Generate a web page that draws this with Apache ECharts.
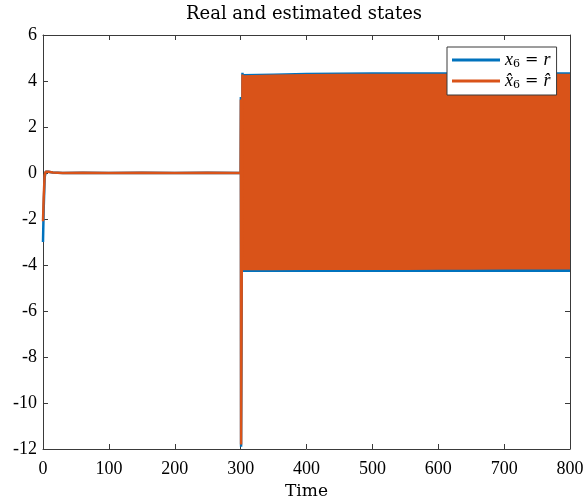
<!DOCTYPE html>
<html>
<head>
<meta charset="utf-8">
<script src="https://cdn.jsdelivr.net/npm/echarts@6/dist/echarts.min.js"></script>
<style>
  html, body { margin: 0; padding: 0; background: #fff; }
  #chart { width: 584px; height: 502px; }
</style>
</head>
<body>
<div id="chart"></div>
<script>
// Real state x6 = r : transient part (time, value)
const realTime  = [0, 1, 2.5, 4, 8, 15, 30, 60, 100, 150, 200, 250, 300, 300.4, 300.7, 301.5, 302.8];
const realValue = [-3.0, -1.6, -0.2, 0.05, 0.05, 0.02, 0.0, 0.01, 0.0, 0.01, 0.0, 0.01, 0.0, 3.3, -11.9, -6.4, 4.36];

// Estimated state x6_hat = r_hat : transient part (time, value)
const estTime  = [0, 1, 2.5, 4, 8, 15, 30, 60, 100, 150, 200, 250, 300, 300.4, 300.7, 301.5, 302.8];
const estValue = [-2.1, -1.1, -0.1, 0.05, 0.05, 0.02, 0.0, 0.01, 0.0, 0.01, 0.0, 0.01, 0.0, 3.2, -11.8, -5.7, 4.28];

// Envelope of the fast oscillation after t = 300
const bandTime  = [302.8, 350, 400, 450, 500, 550, 600, 650, 700, 750, 800];
const realUpper = [4.30, 4.33, 4.36, 4.37, 4.38, 4.38, 4.38, 4.38, 4.38, 4.38, 4.38];
const realLower = [-4.30, -4.30, -4.30, -4.30, -4.30, -4.30, -4.30, -4.30, -4.30, -4.30, -4.30];
const estUpper  = [4.25, 4.28, 4.30, 4.31, 4.32, 4.32, 4.32, 4.32, 4.32, 4.32, 4.32];
const estLower  = [-4.23, -4.23, -4.22, -4.22, -4.22, -4.22, -4.21, -4.21, -4.20, -4.20, -4.20];

// Axis ticks
const xTicks = { min: 0, max: 800, step: 100 };
const yTicks = { min: -12, max: 6, step: 2 };

const BLUE = '#0072BD';
const ORANGE = '#D95319';
const AXIS = '#3a3a3a';
const TICK_FONT = '"Liberation Serif", "Times New Roman", serif';
const TEXT_FONT = '"DejaVu Serif", serif';

const zip = (xs, ys) => xs.map((x, i) => [x, ys[i]]);

const axisCommon = {
  axisLine: { show: true, onZero: false, lineStyle: { color: AXIS, width: 1 } },
  axisTick: { show: true, inside: true, length: 5, lineStyle: { color: AXIS, width: 1 } },
  splitLine: { show: false }
};

const tickLabel = {
  fontFamily: TICK_FONT, fontSize: 18, fontWeight: 'normal', fontStyle: 'normal', color: '#000'
};

// One half of a filled oscillation band; the fill reaches past zero so the
// upper and lower halves overlap without a seam.
function bandSeries(name, data, color, origin, z) {
  return {
    name: name,
    type: 'line',
    data: data,
    symbol: 'none',
    silent: true,
    z: z,
    lineStyle: { width: 0, opacity: 0 },
    itemStyle: { color: color },
    areaStyle: { color: color, opacity: 1, origin: origin }
  };
}

const chart = echarts.init(document.getElementById('chart'), null, { renderer: 'canvas' });

const legendRich = {
  i: { fontFamily: TICK_FONT, fontStyle: 'italic', fontSize: 18, lineHeight: 20, color: '#000' },
  n: { fontFamily: TEXT_FONT, fontSize: 16, lineHeight: 20, color: '#000' },
  s: { fontFamily: TEXT_FONT, fontSize: 11, lineHeight: 11, verticalAlign: 'bottom', color: '#000' }
};

chart.setOption({
  backgroundColor: '#fff',
  animation: false,
  title: {
    text: 'Real and estimated states',
    left: 299,
    top: 0,
    textAlign: 'center',
    textStyle: { fontFamily: TEXT_FONT, fontSize: 18, fontWeight: 'normal', color: '#000' }
  },
  grid: { left: 43, right: 14, top: 35, bottom: 53, containLabel: false, outerBoundsMode: 'none' },
  legend: {
    data: ['real', 'est'],
    orient: 'vertical',
    left: 447,
    top: 47,
    icon: 'rect',
    itemWidth: 48,
    itemHeight: 3,
    itemGap: 2,
    padding: [4, 6, 4, 5],
    backgroundColor: '#fff',
    borderColor: AXIS,
    borderWidth: 1,
    borderRadius: 0,
    selectedMode: false,
    formatter: function (name) {
      return name === 'real'
        ? '{i|x}{s|6}{n| = }{i|r}'
        : '{i|x̂}{s|6}{n| = }{i|r̂}';
    },
    textStyle: {
      fontFamily: TEXT_FONT,
      fontSize: 16,
      color: '#000',
      rich: legendRich
    }
  },
  xAxis: [
    Object.assign({}, axisCommon, {
      type: 'value', position: 'bottom',
      min: xTicks.min, max: xTicks.max, interval: xTicks.step,
      name: 'Time', nameLocation: 'middle', nameGap: 31,
      nameTextStyle: { fontFamily: TEXT_FONT, fontSize: 17, color: '#000' },
      axisLabel: Object.assign({ margin: 11 }, tickLabel)
    }),
    Object.assign({}, axisCommon, {
      type: 'value', position: 'top',
      min: xTicks.min, max: xTicks.max, interval: xTicks.step,
      axisLabel: { show: false }
    })
  ],
  yAxis: [
    Object.assign({}, axisCommon, {
      type: 'value', position: 'left',
      min: yTicks.min, max: yTicks.max, interval: yTicks.step,
      axisLabel: Object.assign({ margin: 6 }, tickLabel)
    }),
    Object.assign({}, axisCommon, {
      type: 'value', position: 'right',
      min: yTicks.min, max: yTicks.max, interval: yTicks.step,
      axisLabel: { show: false }
    })
  ],
  series: [
    bandSeries('realBandUp', zip(bandTime, realUpper), BLUE, -1, 1),
    bandSeries('realBandDown', zip(bandTime, realLower), BLUE, 1, 1),
    {
      name: 'real',
      type: 'line',
      data: zip(realTime, realValue),
      symbol: 'none',
      z: 2,
      lineStyle: { color: BLUE, width: 2.5 },
      itemStyle: { color: BLUE }
    },
    bandSeries('estBandUp', zip(bandTime, estUpper), ORANGE, -1, 3),
    bandSeries('estBandDown', zip(bandTime, estLower), ORANGE, 1, 3),
    {
      name: 'est',
      type: 'line',
      data: zip(estTime, estValue),
      symbol: 'none',
      z: 4,
      lineStyle: { color: ORANGE, width: 2.5 },
      itemStyle: { color: ORANGE }
    }
  ]
});
</script>
</body>
</html>
